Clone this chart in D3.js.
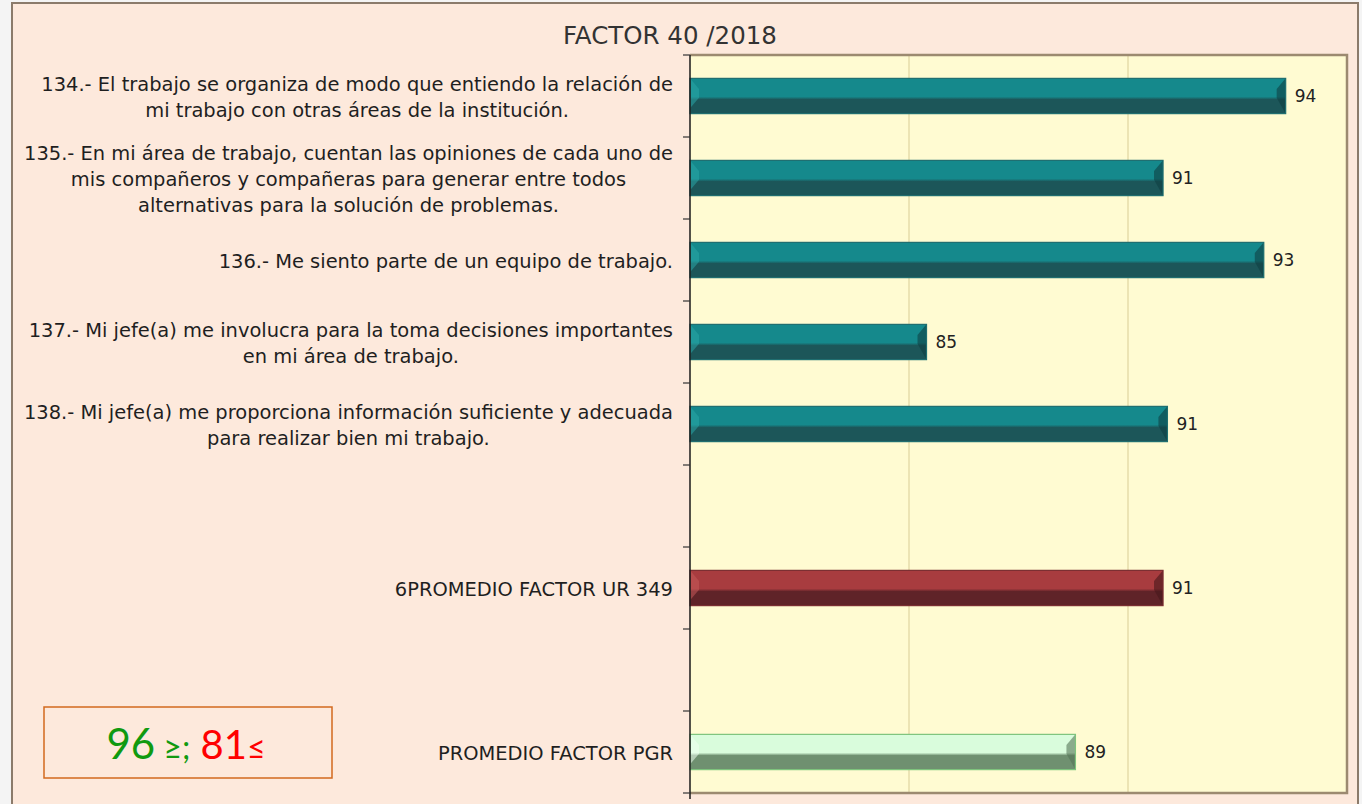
<!DOCTYPE html>
<html><head><meta charset="utf-8">
<script src="https://cdn.jsdelivr.net/npm/d3@7"></script>
<style>
html,body{margin:0;padding:0;background:#fff;}
svg{display:block;font-family:"DejaVu Sans",Lato,sans-serif;}
</style></head>
<body><svg id="c" width="1362" height="804"></svg>
<script>
const categories = [
  "134.- El trabajo se organiza de modo que entiendo la relación de|mi trabajo con otras áreas de la institución.",
  "135.- En mi área de trabajo, cuentan las opiniones de cada uno de|mis compañeros y compañeras para generar entre todos|alternativas para la solución de problemas.",
  "136.- Me siento parte de un equipo de trabajo.",
  "137.- Mi jefe(a) me involucra para la toma decisiones importantes|en mi área de trabajo.",
  "138.- Mi jefe(a) me proporciona información suficiente y adecuada|para realizar bien mi trabajo.",
  "",
  "6PROMEDIO FACTOR UR 349",
  " ",
  "PROMEDIO FACTOR PGR"
];
const values = [93.6, 90.8, 93.1, 85.4, 90.9, null, 90.8, null, 88.8];
const valueLabels = ["94", "91", "93", "85", "91", "", "91", "", "89"];
const barKinds = ["item", "item", "item", "item", "item", "", "ur", "", "pgr"];
const xTicks = [80, 85, 90, 95];
const title = "FACTOR 40 /2018";

const svg = d3.select("#c");
const W = 1362, H = 804;
const plot = {l: 690, r: 1347, t: 55, b: 793};

svg.append("rect").attr("x",0).attr("y",0).attr("width",W).attr("height",H).attr("fill","#f4f4f4");
svg.append("rect").attr("x",12).attr("y",3).attr("width",1346).attr("height",802)
  .attr("fill","#fde9dc").attr("stroke","#8b7b6b").attr("stroke-width",2);

const defs = svg.append("defs");
const palettes = {
  item: {top:"#15898c", bot:"#1c5659", light:"#2aa5a6", dark:"#0f3f42", edge:"#1e6e70"},
  ur:   {top:"#a83c3f", bot:"#5f2328", light:"#c45a5a", dark:"#46171b", edge:"#7a2d31"},
  pgr:  {top:"#d9fcdc", bot:"#6f9070", light:"#eefff0", dark:"#557556", edge:"#7dc47d"}
};
Object.entries(palettes).forEach(([k,p])=>{
  const g = defs.append("linearGradient").attr("id","g_"+k).attr("x1",0).attr("y1",0).attr("x2",0).attr("y2",1);
  g.append("stop").attr("offset","0%").attr("stop-color",p.top);
  g.append("stop").attr("offset","52%").attr("stop-color",p.top);
  g.append("stop").attr("offset","60%").attr("stop-color",p.bot);
  g.append("stop").attr("offset","100%").attr("stop-color",p.bot);
});

const x = d3.scaleLinear().domain([xTicks[0], xTicks[xTicks.length-1]]).range([plot.l, plot.r]);
const y = d3.scaleBand().domain(categories).range([plot.t, plot.b]).paddingInner(0.57).paddingOuter(0.285);
const yb = d3.scaleBand().domain(categories).range([plot.t, plot.b]);

svg.append("rect").attr("x",plot.l).attr("y",plot.t).attr("width",plot.r-plot.l).attr("height",plot.b-plot.t)
  .attr("fill","#fffbd2");
svg.append("g").selectAll("line").data(xTicks.slice(1,-1)).join("line")
  .attr("x1",d=>x(d)).attr("x2",d=>x(d)).attr("y1",plot.t).attr("y2",plot.b)
  .attr("stroke","#e6dcaa").attr("stroke-width",1.5);
svg.append("path").attr("d",`M${plot.l},${plot.t}H${plot.r}V${plot.b}H${plot.l}`)
  .attr("fill","none").attr("stroke","#9c8a70").attr("stroke-width",2.5);

const data = categories.map((c,i)=>({c, v:values[i], lab:valueLabels[i], kind:barKinds[i]})).filter(d=>d.v!=null);
const bars = svg.append("g").selectAll("g").data(data).join("g");
bars.each(function(d){
  const g = d3.select(this);
  const p = palettes[d.kind];
  const x0 = x(xTicks[0]), x1 = x(d.v), y0 = y(d.c), h = y.bandwidth();
  const bv = 9;
  g.append("rect").attr("x",x0).attr("y",y0).attr("width",x1-x0).attr("height",h).attr("fill",`url(#g_${d.kind})`);
  g.append("path").attr("d",`M${x0},${y0}L${x0+bv},${y0+h*0.3}L${x0+bv},${y0+h*0.55}L${x0},${y0+h*0.85}Z`)
    .attr("fill",p.light).attr("opacity",0.55);
  g.append("path").attr("d",`M${x1},${y0}L${x1-bv},${y0+h*0.3}L${x1-bv},${y0+h*0.55}L${x1},${y0+h}Z`)
    .attr("fill",p.dark).attr("opacity",0.6);
  g.append("rect").attr("x",x0).attr("y",y0).attr("width",x1-x0).attr("height",h)
    .attr("fill","none").attr("stroke",p.edge).attr("stroke-width",1.2);
  g.append("text").attr("x",x1+9).attr("y",y0+h/2).attr("dy","0.38em")
    .attr("font-size",17).attr("fill","#222").text(d.lab);
});

svg.append("line").attr("x1",plot.l).attr("x2",plot.l).attr("y1",plot.t).attr("y2",plot.b+6)
  .attr("stroke","#1a1a1a").attr("stroke-width",1.5);
const bounds = categories.map(c=>yb(c)).concat([plot.b]);
svg.append("g").selectAll("line").data(bounds).join("line")
  .attr("x1",plot.l-7).attr("x2",plot.l).attr("y1",d=>d).attr("y2",d=>d)
  .attr("stroke","#333").attr("stroke-width",1.2);

const probe = svg.append("text").attr("font-size",16).text(categories[0].split("|")[0]);
const fs = 16 * 632 / probe.node().getComputedTextLength();
probe.remove();

const lg = svg.append("g").attr("font-size",fs).attr("fill","#1f1f1f");
categories.forEach(c=>{
  if(!c.trim()) return;
  const lines = c.split("|");
  const t = lg.append("text").attr("text-anchor","middle");
  const lh = 26;
  const cy = yb(c) + yb.bandwidth()/2 + 1;
  lines.forEach((ln,i)=>{
    t.append("tspan").attr("y", cy + (i-(lines.length-1)/2)*lh).attr("dy","0.35em").text(ln);
  });
  let maxW = 0;
  t.selectAll("tspan").each(function(){ maxW = Math.max(maxW, this.getComputedTextLength()); });
  t.selectAll("tspan").attr("x", 673 - maxW/2);
});

const tt = svg.append("text").attr("x",670).attr("y",44).attr("text-anchor","middle")
  .attr("font-size",18).attr("fill","#333").text(title);
const tw = tt.node().getComputedTextLength();
tt.attr("font-size", 18*214/tw);

svg.append("rect").attr("x",44).attr("y",707).attr("width",288).attr("height",71)
  .attr("fill","none").attr("stroke","#d2691e").attr("stroke-width",1.5);
const lt = svg.append("text").attr("x",186).attr("y",759).attr("text-anchor","middle").attr("font-family","Lato,sans-serif");
lt.append("tspan").attr("fill","#109a10").attr("font-size",42).text("96");
lt.append("tspan").attr("fill","#109a10").attr("font-size",32).text(" ≥;");
lt.append("tspan").attr("fill","#ff0000").attr("font-size",40).text(" 81");
lt.append("tspan").attr("fill","#ff0000").attr("font-size",32).text("≤");
</script></body></html>
